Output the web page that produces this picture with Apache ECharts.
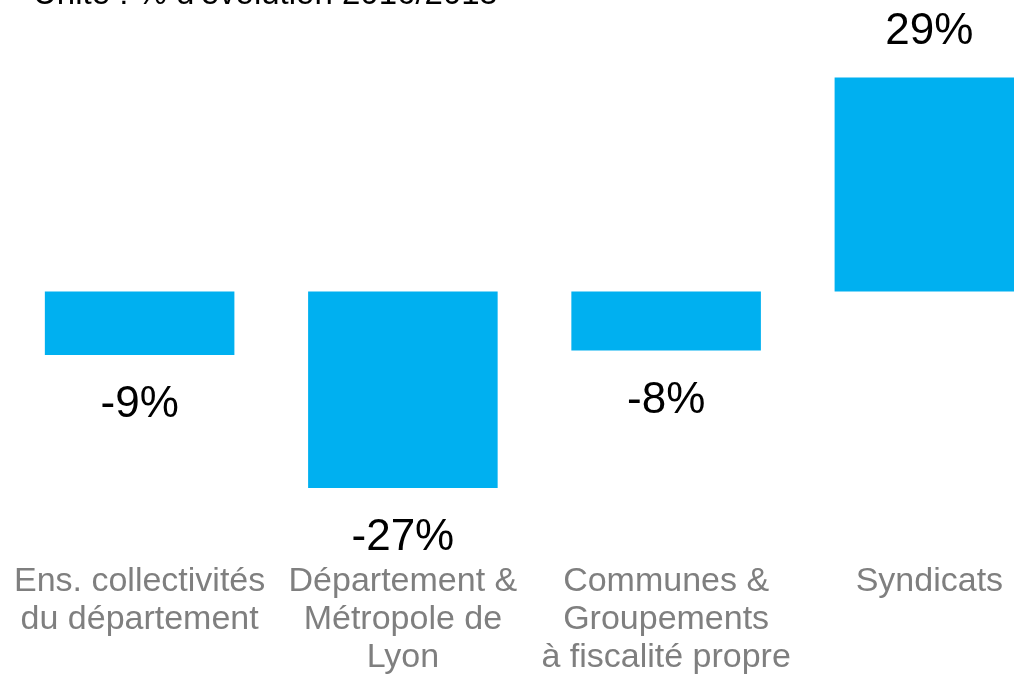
<!DOCTYPE html>
<html>
<head>
<meta charset="utf-8">
<script src="https://cdn.jsdelivr.net/npm/echarts@6/dist/echarts.min.js"></script>
<style>html,body{margin:0;padding:0;background:#fff;overflow:hidden;}#c{width:1061px;height:677px;}</style>
</head>
<body>
<div id="c"></div>
<script>
const titleText = "Unité : % d'évolution 2016/2015";
const categories = [
  "Ens. collectivités\ndu département",
  "Département &\nMétropole de\nLyon",
  "Communes &\nGroupements\nà fiscalité propre",
  "Syndicats"
];
const values = [-8.6, -26.6, -8.0, 29.0];

const chart = echarts.init(document.getElementById('c'));
chart.setOption({
  animation: false,
  title: {
    text: titleText, left: 28, top: -27,
    textStyle: { fontFamily: 'Liberation Sans', fontSize: 33, fontWeight: 'normal', color: '#000' }
  },
  grid: { left: 8, right: 0, top: 70, bottom: 164, containLabel: false },
  xAxis: {
    type: 'category', data: categories,
    axisLine: { show: false, onZero: false }, axisTick: { show: false },
    axisLabel: { margin: 50, fontFamily: 'Liberation Sans', fontSize: 34, lineHeight: 38, color: '#7f7f7f', interval: 0 }
  },
  yAxis: {
    type: 'value', min: -30, max: 30, show: false, splitLine: { show: false }
  },
  series: [{
    type: 'bar', barWidth: '72%',
    itemStyle: { color: '#00b0f0' },
    data: values.map(v => ({
      value: v,
      label: { position: v < 0 ? 'bottom' : 'top', distance: v < 0 ? 28 : 24 }
    })),
    label: {
      show: true, fontFamily: 'Liberation Sans', fontSize: 44, color: '#000',
      formatter: p => Math.round(p.value) + '%'
    }
  }]
});
</script>
</body>
</html>
